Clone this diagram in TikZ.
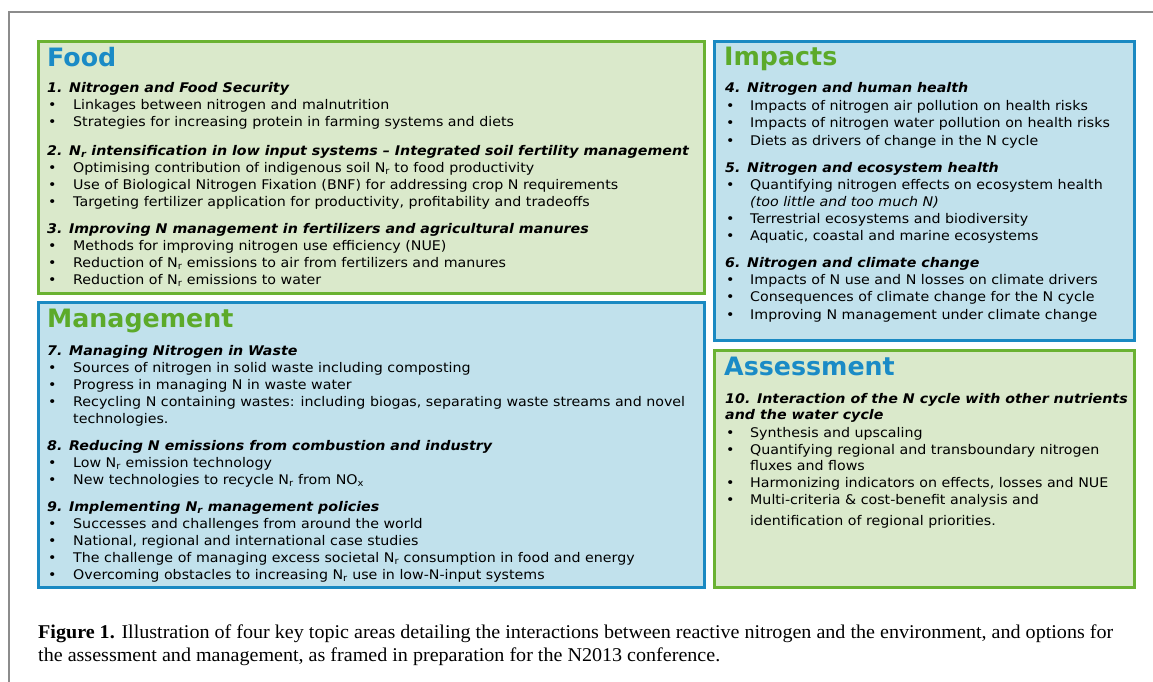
\documentclass[tikz,border=0pt]{standalone}
\usepackage{fontspec}
\setmainfont[FakeStretch=1.07]{DejaVu Sans}
\newfontfamily\ttlfont{DejaVu Sans}
\newfontfamily\capfont[FakeStretch=1.03]{Liberation Serif}
\usetikzlibrary{calc}

\definecolor{boxgreen}{HTML}{6AB232}
\definecolor{fillgreen}{HTML}{DAE9CB}
\definecolor{boxblue}{HTML}{1A89C2}
\definecolor{fillblue}{HTML}{C1E1EC}
\definecolor{ttlblue}{HTML}{1A8BC6}
\definecolor{ttlgreen}{HTML}{5CAA2A}

\newcommand\bodysize{\fontsize{13.3}{15}\selectfont}
\newcommand\Nr{N\textsubscript{r}}

\tikzset{
  greenbox/.style = {draw=boxgreen, fill=fillgreen, line width=3pt},
  bluebox/.style = {draw=boxblue, fill=fillblue, line width=3pt},
  ttl/.style = {anchor=base west, inner sep=0pt, font=\ttlfont\fontsize{25.3}{26}\selectfont\bfseries},
  hd/.style = {anchor=base west, inner sep=0pt, font=\bodysize\bfseries\itshape},
  itm/.style = {anchor=base west, inner sep=0pt, font=\bodysize},
  bul/.style = {anchor=base west, inner sep=0pt, font=\bodysize},
  capline/.style = {anchor=base west, inner sep=0pt, font=\capfont\fontsize{19.5}{22}\selectfont}
}

\begin{document}
\begin{tikzpicture}[x=1pt, y=-1pt]
  \useasboundingbox (0,0) rectangle (1153,682);
  \fill[white] (0,0) rectangle (1153,682);

  % frame of the figure
  \draw[line width=1.5pt, black!45] (1153,12) -- (9,12) -- (9,682);

  % the four boxes
  \draw[greenbox] (38.5,41.5) rectangle (704.5,293.5);
  \draw[bluebox] (38.5,302.5) rectangle (704.5,587.5);
  \draw[bluebox] (714.5,41.5) rectangle (1134.5,340.5);
  \draw[greenbox] (714.5,350.5) rectangle (1134.5,587.5);

  % Food
  \node[ttl, text=ttlblue] (food) at (47,67) {Food};
  \node[hd] (h1) at (47,93) {1. Nitrogen and Food Security};
  \node[hd] (h2) at (47,155) {2. \Nr{} intensification in low input systems – Integrated soil fertility management};
  \node[hd] (h3) at (47,233) {3. Improving N management in fertilizers and agricultural manures};
  \foreach \y/\t in {110/{Linkages between nitrogen and malnutrition},
      127/{Strategies for increasing protein in farming systems and diets},
      172/{Optimising contribution of indigenous soil \Nr{} to food productivity},
      189/{Use of Biological Nitrogen Fixation (BNF) for addressing crop N requirements},
      206/{Targeting fertilizer application for productivity, profitability and tradeoffs},
      250/{Methods for improving nitrogen use efficiency (NUE)},
      267/{Reduction of \Nr{} emissions to air from fertilizers and manures},
      284/{Reduction of \Nr{} emissions to water}}{
    \node[bul] (fb\y) at (48,\y) {•};
    \node[itm] (ft\y) at (73,\y) {\t};
  }

  % Management
  \node[ttl, text=ttlgreen] (manage) at (47,327) {Management};
  \node[hd] (h7) at (47,355) {7. Managing Nitrogen in Waste};
  \node[hd] (h8) at (47,450) {8. Reducing N emissions from combustion and industry};
  \node[hd] (h9) at (47,511) {9. Implementing \Nr{} management policies};
  \foreach \y/\t in {372/{Sources of nitrogen in solid waste including composting},
      389/{Progress in managing N in waste water},
      406/{Recycling N containing wastes: including biogas, separating waste streams and novel},
      467/{Low \Nr{} emission technology},
      484/{New technologies to recycle \Nr{} from NO\textsubscript{x}},
      528/{Successes and challenges from around the world},
      545/{National, regional and international case studies},
      562/{The challenge of managing excess societal \Nr{} consumption in food and energy},
      579/{Overcoming obstacles to increasing \Nr{} use in low-N-input systems}}{
    \node[bul] (mb\y) at (48,\y) {•};
    \node[itm] (mt\y) at (73,\y) {\t};
  }
  \node[itm] (mt423) at (73,423) {technologies.};

  % Impacts
  \node[ttl, text=ttlgreen] (impact) at (724,66) {Impacts};
  \node[hd] (h4) at (725,93) {4. Nitrogen and human health};
  \node[hd] (h5) at (725,172) {5. Nitrogen and ecosystem health};
  \node[hd] (h6) at (725,267) {6. Nitrogen and climate change};
  \foreach \y/\t in {111/{Impacts of nitrogen air pollution on health risks},
      128/{Impacts of nitrogen water pollution on health risks},
      145/{Diets as drivers of change in the N cycle},
      189/{Quantifying nitrogen effects on ecosystem health},
      223/{Terrestrial ecosystems and biodiversity},
      240/{Aquatic, coastal and marine ecosystems},
      284/{Impacts of N use and N losses on climate drivers},
      301/{Consequences of climate change for the N cycle},
      319/{Improving N management under climate change}}{
    \node[bul] (ib\y) at (726,\y) {•};
    \node[itm] (it\y) at (750,\y) {\t};
  }
  \node[itm, font=\bodysize\itshape] (it206) at (750,206) {(too little and too much N)};

  % Assessment
  \node[ttl, text=ttlblue] (assess) at (724,375) {Assessment};
  \node[hd] (h10) at (725,403) {10. Interaction of the N cycle with other nutrients};
  \node[hd] (h10b) at (725,419) {and the water cycle};
  \foreach \y/\t in {437/{Synthesis and upscaling},
      454/{Quantifying regional and transboundary nitrogen},
      487/{Harmonizing indicators on effects, losses and NUE},
      504/{Multi-criteria \& cost-benefit analysis and}}{
    \node[bul] (ab\y) at (726,\y) {•};
    \node[itm] (at\y) at (750,\y) {\t};
  }
  \node[itm] (at470) at (750,470) {fluxes and flows};
  \node[itm] (at525) at (750,525) {identification of regional priorities.};

  % caption
  \node[capline] (cap1) at (38,638)
    {\textbf{Figure 1.} Illustration of four key topic areas detailing the interactions between reactive nitrogen and the environment, and options for};
  \node[capline] (cap2) at (38,661)
    {the assessment and management, as framed in preparation for the N2013 conference.};
\end{tikzpicture}
\end{document}
